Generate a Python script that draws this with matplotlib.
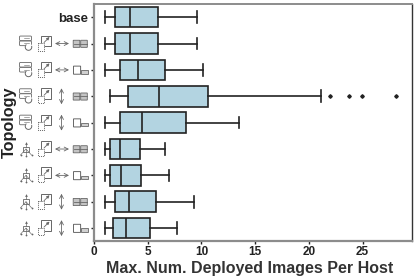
import matplotlib
matplotlib.use("Agg")
import matplotlib.pyplot as plt
from matplotlib.patches import Rectangle, FancyBboxPatch, Arc, FancyArrowPatch, Circle

plt.rcParams["font.family"] = ["Liberation Sans", "DejaVu Sans"]

# top to bottom
row_names = ["base", "cr_h_grid", "cr_h_pair", "cr_v_grid", "cr_v_pair",
             "tr_h_grid", "tr_h_pair", "tr_v_grid", "tr_v_pair"]
whisker_lo = [1.0, 1.0, 1.0, 1.52, 1.0, 1.0, 1.0, 1.0, 1.0]
q1 = [1.95, 1.95, 2.39, 3.19, 2.39, 1.52, 1.52, 1.95, 1.77]
median = [3.35, 3.35, 4.06, 6.05, 4.47, 2.39, 2.54, 3.23, 2.95]
q3 = [5.98, 5.98, 6.6, 10.63, 8.59, 4.25, 4.34, 5.77, 5.18]
whisker_hi = [9.58, 9.58, 10.1, 21.1, 13.5, 6.57, 7.0, 9.3, 7.75]
outliers = [[], [], [], [22.0, 23.7, 24.93, 28.15], [], [], [], [], []]
xticks = [0, 5, 10, 15, 20, 25]

DARK = "#222222"
GRAY = "#8c8c8c"
ICON = "#666666"

fig = plt.figure(figsize=(4.15, 2.77), dpi=100)
ax = fig.add_axes([93.5 / 415, 1 - 241.3 / 277, (411.5 - 93.5) / 415, (241.3 - 4) / 277])

stats = []
for i in range(len(row_names)):
    stats.append({"whislo": whisker_lo[i], "q1": q1[i], "med": median[i], "q3": q3[i],
                  "whishi": whisker_hi[i], "fliers": outliers[i]})
line = {"color": DARK, "linewidth": 1.2}
ax.bxp(stats, positions=range(len(stats)), orientation="horizontal", widths=0.78,
       capwidths=0.44, patch_artist=True,
       boxprops={"facecolor": "#b3d4e1", "edgecolor": DARK, "linewidth": 1.2},
       medianprops=line, whiskerprops=line, capprops=line,
       flierprops={"marker": "D", "markersize": 1.8, "markerfacecolor": DARK, "markeredgecolor": DARK})

ax.set_xlim(-0.05, 29.55)
ax.set_ylim(len(stats) - 0.5, -0.5)
ax.set_xticks(xticks)
ax.set_xticklabels([str(t) for t in xticks], fontweight="bold", fontsize=8.5, color=DARK)
ax.set_yticks(range(len(stats)))
ax.set_yticklabels(["base"] + [""] * 8, fontweight="bold", fontsize=9.5, color=DARK)
ax.tick_params(length=2.2, width=1.0, color=DARK, pad=1.5)
ax.spines["left"].set(color=GRAY, linewidth=1.6)
ax.spines["bottom"].set(color=GRAY, linewidth=1.6)
ax.spines["top"].set(color=GRAY, linewidth=1.4)
ax.spines["right"].set(color="#333333", linewidth=1.0)
fig.text(250 / 415, 1 - 269 / 277, "Max. Num. Deployed Images Per Host", fontweight="bold",
         fontsize=11.55, color="#333333", ha="center", va="center")
fig.text(9 / 415, 1 - 122 / 277, "Topology", fontweight="bold", fontsize=11.7, color=DARK,
         rotation=90, ha="center", va="center")

# overlay in pixel coords for the topology icons
ov = fig.add_axes([0, 0, 1, 1], facecolor="none")
ov.set_xlim(0, 415)
ov.set_ylim(277, 0)
ov.axis("off")


def servers_icon(y):
    for dy in (-6.5, -1.5):
        ov.add_patch(FancyBboxPatch((20.5, y + dy), 10, 2.6, boxstyle="round,pad=1", fc="white", ec=ICON, lw=0.6))
        ov.plot([24, 29], [y + dy + 1.3] * 2, color=ICON, lw=0.4)
    ov.add_patch(Circle((28.5, y + 3.5), 3.8, fc="white", ec="none"))
    ov.add_patch(Arc((28.5, y + 3.5), 6.5, 6.5, theta1=-20, theta2=230, ec=ICON, lw=0.7))


def tree_icon(y):
    for nx, ny in [(20.5, y + 6), (26, y + 7), (31.5, y + 6)]:
        ov.plot([26, nx], [y, ny], color=ICON, lw=0.45)
        ov.plot([nx], [ny], "o", ms=1.3, color=ICON, mew=0)
    ov.add_patch(Rectangle((23, y - 2.5), 6, 5, fc="white", ec=ICON, lw=0.6))
    ov.plot([26, 26], [y - 2.5, y - 6.5], color=ICON, lw=0.5)
    ov.plot([26], [y - 6.5], "^", ms=2, color=ICON, mew=0)


def resize_icon(y):
    ov.add_patch(Rectangle((41, y - 8), 10, 10.5, fc="white", ec=ICON, lw=0.7))
    ov.add_patch(Rectangle((37.5, y - 0.5), 6.5, 7.5, fc="white", ec=ICON, lw=0.7, ls=(0, (1, 1))))
    ov.add_patch(FancyArrowPatch((44, y - 1), (49.5, y - 6.5), arrowstyle="-|>", mutation_scale=4, color=ICON, lw=0.6, shrinkA=0, shrinkB=0))


def scale_arrow(y, vertical):
    if vertical:
        a, b = (61.5, y - 8), (61.5, y + 8)
    else:
        a, b = (55, y), (69, y)
    ov.add_patch(FancyArrowPatch(a, b, arrowstyle="<->", mutation_scale=7, color=ICON, lw=0.6, shrinkA=0, shrinkB=0))


def grid_icon(y):
    for x0 in (73.5, 81):
        ov.add_patch(FancyBboxPatch((x0, y - 3), 6, 6.5, boxstyle="round,pad=0.3", fc="#c4c4c4", ec=ICON, lw=0.6))
        ov.plot([x0, x0 + 6], [y + 0.2] * 2, color=ICON, lw=0.6)


def pair_icon(y):
    ov.add_patch(FancyBboxPatch((73.8, y - 3.5), 6.5, 7.5, boxstyle="round,pad=0.3", fc="white", ec=ICON, lw=0.7))
    ov.add_patch(Rectangle((81, y + 0.3), 6.5, 3.5, fc="#d0d0d0", ec=ICON, lw=0.6))


for i, name in enumerate(row_names[1:], start=1):
    y = 277 - ax.transData.transform((0, i))[1]
    servers_icon(y) if name.startswith("cr") else tree_icon(y)
    resize_icon(y)
    scale_arrow(y, "_v_" in name)
    grid_icon(y) if name.endswith("grid") else pair_icon(y)

fig.savefig("out.png", dpi=100)
